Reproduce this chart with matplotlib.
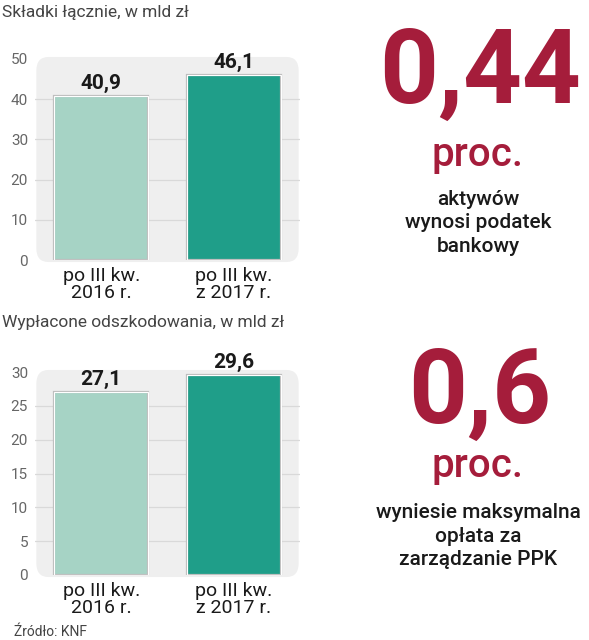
import matplotlib
matplotlib.use("Agg")
import matplotlib.pyplot as plt
from matplotlib.patches import FancyBboxPatch
from matplotlib import font_manager

# data
categories = ["po III kw.\n2016 r.", "po III kw.\nz 2017 r."]
premiums = [40.9, 46.1]
claims = [27.1, 29.6]
premium_ticks = [0, 10, 20, 30, 40, 50]
claim_ticks = [0, 5, 10, 15, 20, 25, 30]
premium_title = "Składki łącznie, w mld zł"
claim_title = "Wypłacone odszkodowania, w mld zł"
source = "Źródło: KNF"
big_numbers = ["0,44", "0,6"]
big_notes = ["aktywów\nwynosi podatek\nbankowy",
             "wyniesie maksymalna\nopłata za\nzarządzanie PPK"]

names = {f.name for f in font_manager.fontManager.ttflist}
narrow = "Liberation Sans Narrow" if "Liberation Sans Narrow" in names else "Roboto"
plt.rcParams['font.family'] = [narrow, 'DejaVu Sans']

bar_colors = ["#a6d3c5", "#1f9e89"]
red = "#a51d3b"
W, H = 589, 640

fig = plt.figure(figsize=(W / 100, H / 100), dpi=100)


def px_axes(x0, x1, y_top, y_bottom):
    return fig.add_axes([x0 / W, 1 - y_bottom / H, (x1 - x0) / W, (y_bottom - y_top) / H])


def bar_panel(ax, values, ticks):
    top = ticks[-1]
    ax.set_xlim(-0.5, 1.5)
    ax.set_ylim(0, top)
    ax.set_facecolor("none")
    bg = FancyBboxPatch((-0.49, -0.01 * top), 1.98, 1.02 * top,
                        boxstyle="round,pad=0,rounding_size=0.09",
                        mutation_aspect=top / 1.3,
                        facecolor="#efefef", edgecolor="none", zorder=0,
                        clip_on=False, transform=ax.transData)
    ax.add_patch(bg)
    for t in ticks[1:-1]:
        ax.axhline(t, color="#d9d9d9", lw=0.9, zorder=1)
    bars = ax.bar([0, 1], values, width=0.71, color=bar_colors,
                  edgecolor="#bdbdbd", linewidth=1.6, zorder=2)
    ax.bar([0, 1], values, width=0.71, color="none",
           edgecolor="white", linewidth=0.8, zorder=3)
    for b, v in zip(bars, values):
        ax.text(b.get_x() + b.get_width() / 2, v + top * 0.015,
                f"{v:.1f}".replace(".", ","), ha="center", va="bottom",
                fontsize=15, fontweight="bold", color="#1a1a1a")
    ax.set_yticks(ticks)
    ax.set_yticklabels([str(t) for t in ticks], fontsize=11, color="#666666")
    ax.set_xticks([0, 1])
    ax.set_xticklabels(categories, fontsize=14, color="#1a1a1a", linespacing=0.95)
    ax.tick_params(length=0, axis="y", pad=5)
    ax.tick_params(length=0, axis="x", pad=5)
    for s in ax.spines.values():
        s.set_visible(False)


ax1 = px_axes(35, 300, 59, 260)
bar_panel(ax1, premiums, premium_ticks)
ax2 = px_axes(35, 300, 372, 575)
bar_panel(ax2, claims, claim_ticks)

fig.text(2 / W, 1 - 12 / H, premium_title, fontsize=12.5, color="#444444", va="center")
fig.text(2 / W, 1 - 322 / H, claim_title, fontsize=12.5, color="#444444", va="center")
fig.text(14 / W, 1 - 632 / H, source, fontsize=10, color="#444444", va="center")

# right-hand callouts
for num, note, y_num, y_proc, y_note in [
        (big_numbers[0], big_notes[0], 103, 166, 223),
        (big_numbers[1], big_notes[1], 423, 477, 536)]:
    fig.text(480 / W, 1 - y_num / H, num, fontsize=74, color=red,
             ha="center", va="baseline", fontweight="bold")
    fig.text(478 / W, 1 - y_proc / H, "proc.", fontsize=29, color=red,
             ha="center", va="baseline", fontweight="medium")
    fig.text(478 / W, 1 - y_note / H, note, fontsize=15, color="#1a1a1a",
             ha="center", va="center", linespacing=1.3, fontweight="medium")

fig.savefig("out.png", dpi=100)
